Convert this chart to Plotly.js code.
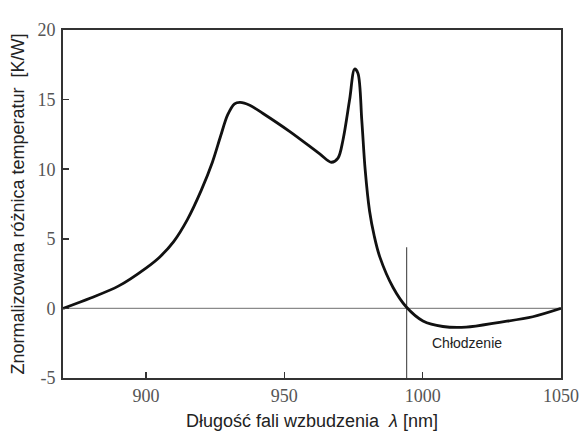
<!DOCTYPE html>
<html><head><meta charset="utf-8">
<script src="https://cdn.plot.ly/plotly-3.0.1.min.js"></script>
<style>html,body{margin:0;padding:0;background:#fff}#chart{width:587px;height:441px}</style>
</head><body><div id="chart"></div>
<script>
const wavelength = [870, 880, 890, 900, 905, 910, 915, 920, 924, 927, 929.5, 932, 934, 937.5, 942.3, 952, 962.8, 967, 969.4, 971.2, 973.6, 975.4, 976.6, 978, 979.2, 980.8, 982.5, 984.5, 989.3, 994.1, 1000.1, 1007.3, 1015.7, 1027.8, 1039.8, 1050];
const tempDiff   = [0, 0.75, 1.6, 2.9, 3.7, 4.8, 6.4, 8.5, 10.5, 12.4, 13.9, 14.7, 14.8, 14.6, 14.0, 12.7, 11.1, 10.5, 10.8, 12.1, 15.0, 17.2, 16.9, 13.5, 10.0, 7.0, 5.2, 3.7, 1.5, 0.1, -0.9, -1.3, -1.35, -1.0, -0.6, 0];
const markerX = [994.2, 994.2];
const markerY = [-5, 4.4];
const xTicks = [900, 950, 1000, 1050];
const yTicks = [-5, 0, 5, 10, 15, 20];
const coolingLabel = {x: 1016, y: -2.5, text: 'Chłodzenie'};

const traces = [
  {x: [870, 1050], y: [0, 0], mode: 'lines', line: {color: '#8a8a8a', width: 1.2}, hoverinfo: 'skip'},
  {x: markerX, y: markerY, mode: 'lines', line: {color: '#555', width: 1.2}, hoverinfo: 'skip'},
  {x: wavelength, y: tempDiff, mode: 'lines', line: {color: '#111', width: 2.8, shape: 'spline', smoothing: 0.9}}
];

const layout = {
  width: 587, height: 441,
  margin: {l: 63, r: 26, t: 30, b: 63},
  paper_bgcolor: '#fff', plot_bgcolor: '#fff',
  showlegend: false,
  xaxis: {
    range: [870, 1050], tickvals: xTicks, ticktext: xTicks.map(String),
    ticks: 'inside', ticklen: 6, tickwidth: 1.5, tickcolor: '#333',
    showline: true, linecolor: '#333', linewidth: 2, mirror: true,
    showgrid: false, zeroline: false,
    tickfont: {family: 'Liberation Serif, Times New Roman, serif', size: 18, color: '#555'},
    title: {text: 'Długość fali wzbudzenia  <i>λ</i> [nm]', standoff: 10,
            font: {family: 'Liberation Sans, Arial, sans-serif', size: 18, color: '#222'}}
  },
  yaxis: {
    range: [-5, 20], tickvals: yTicks, ticktext: yTicks.map(String),
    ticks: 'inside', ticklen: 6, tickwidth: 1.5, tickcolor: '#333',
    showline: true, linecolor: '#333', linewidth: 2, mirror: true,
    showgrid: false, zeroline: false, ticklabelstandoff: 2,
    tickfont: {family: 'Liberation Serif, Times New Roman, serif', size: 18, color: '#555'},
    title: {text: 'Znormalizowana różnica temperatur  [K/W]', standoff: 8,
            font: {family: 'Liberation Sans, Arial, sans-serif', size: 18, color: '#222'}}
  },
  annotations: [{x: coolingLabel.x, y: coolingLabel.y, text: coolingLabel.text, showarrow: false,
    font: {family: 'Liberation Sans, Arial, sans-serif', size: 14, color: '#222'}}]
};

Plotly.newPlot('chart', traces, layout, {displayModeBar: false, staticPlot: true});
</script></body></html>
